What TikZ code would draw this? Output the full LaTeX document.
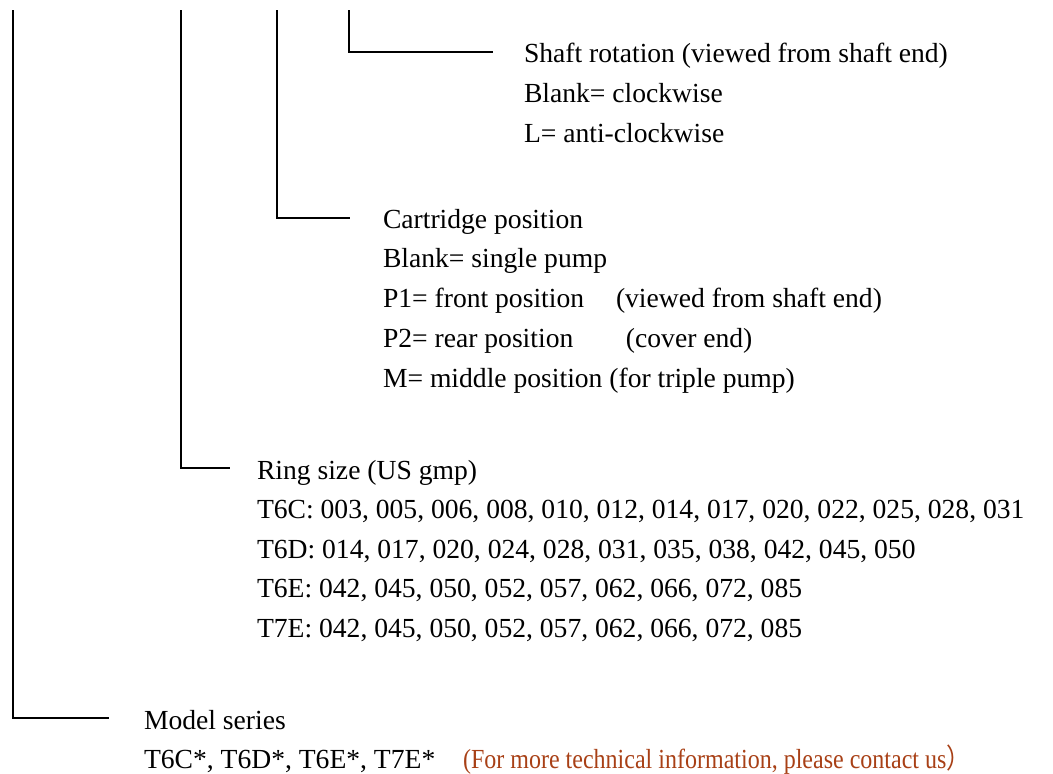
\documentclass[tikz,border=0pt]{standalone}
\usepackage{fontspec}
\setmainfont{Liberation Serif}
\newfontfamily\cjk{Noto Sans CJK SC}
\usepackage{graphicx}
\usepackage{tikz}
\definecolor{contact}{RGB}{168,64,22}

\begin{document}
\begin{tikzpicture}[x=0.5pt,y=-0.5pt,line width=1pt,
  entry/.style={anchor=base west,inner sep=0pt,font=\fontsize{13.8}{16}\selectfont}]
\useasboundingbox (0,0) rectangle (1053,773);

\coordinate (series top) at (13,10);   \coordinate (series end) at (109,718);
\coordinate (ring top) at (181,10);    \coordinate (ring end) at (230,468);
\coordinate (cart top) at (277,10);    \coordinate (cart end) at (350,218);
\coordinate (shaft top) at (349,10);   \coordinate (shaft end) at (493,52);

\draw (series top) |- (series end);
\draw (ring top) |- (ring end);
\draw (cart top) |- (cart end);
\draw (shaft top) |- (shaft end);

\foreach[count=\k] \txt in {{Shaft rotation (viewed from shaft end)},{Blank= clockwise},{L= anti-clockwise}}
  \node[entry] (shaft\k) at (523,{22+40*\k}) {\txt};

\foreach[count=\k] \txt in {{Cartridge position},{Blank= single pump},
  {\makebox[116.5pt][l]{P1= front position}(viewed from shaft end)},
  {\makebox[121.5pt][l]{P2= rear position}(cover end)},
  {M= middle position (for triple pump)}}
  \node[entry] (cart\k) at (382,{188.5+39.7*\k}) {\txt};

\foreach[count=\k] \txt in {{Ring size (US gmp)},
  {T6C: 003, 005, 006, 008, 010, 012, 014, 017, 020, 022, 025, 028, 031},
  {T6D: 014, 017, 020, 024, 028, 031, 035, 038, 042, 045, 050},
  {T6E: 042, 045, 050, 052, 057, 062, 066, 072, 085},
  {T7E: 042, 045, 050, 052, 057, 062, 066, 072, 085}}
  \node[entry] (ring\k) at (256,{439.5+39.5*\k}) {\txt};

\node[entry] (series1) at (143,729) {Model series};
\node[entry] (series2) at (143,768) {\makebox[159.5pt][l]{T6C*, T6D*, T6E*, T7E*}%
  \textcolor{contact}{\scalebox{0.87}[1]{(For more technical information, please contact us\cjk{）}}}};

\end{tikzpicture}
\end{document}
